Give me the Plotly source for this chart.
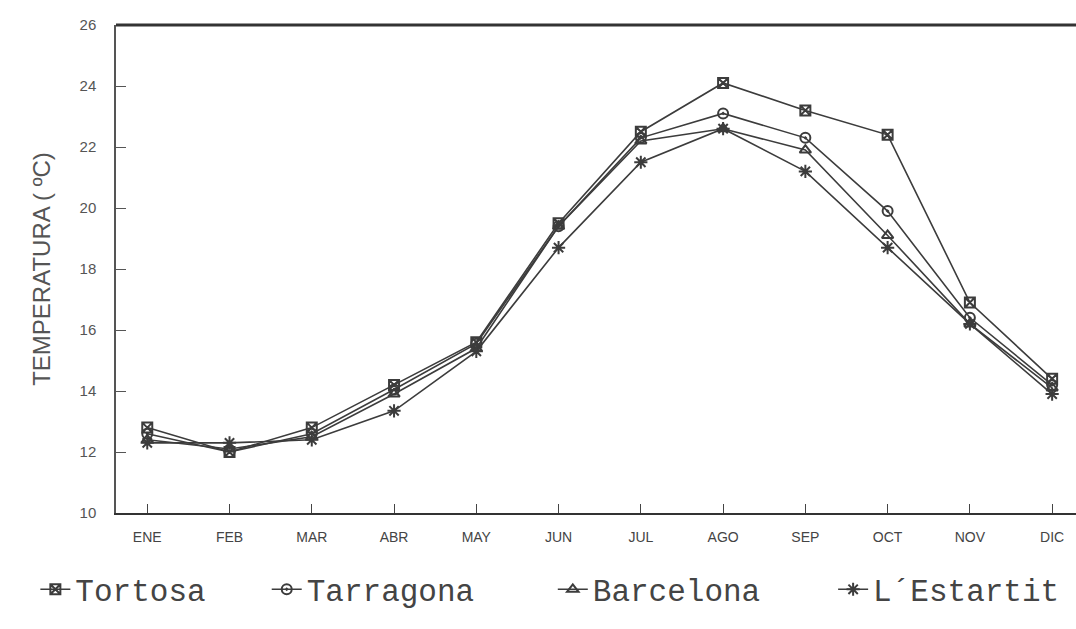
import plotly.graph_objects as go

months = ["ENE", "FEB", "MAR", "ABR", "MAY", "JUN", "JUL", "AGO", "SEP", "OCT", "NOV", "DIC"]
tortosa = [12.8, 12.0, 12.8, 14.2, 15.6, 19.5, 22.5, 24.1, 23.2, 22.4, 16.9, 14.4]
tarragona = [12.6, 12.0, 12.6, 14.05, 15.55, 19.4, 22.3, 23.1, 22.3, 19.9, 16.4, 14.2]
barcelona = [12.4, 12.1, 12.5, 13.9, 15.4, 19.4, 22.2, 22.6, 21.9, 19.1, 16.2, 14.1]
estartit = [12.3, 12.3, 12.4, 13.35, 15.3, 18.7, 21.5, 22.6, 21.2, 18.7, 16.2, 13.9]
names = ["Tortosa", "Tarragona", "Barcelona", "L´Estartit"]
yticks = [10, 12, 14, 16, 18, 20, 22, 24, 26]

series = [tortosa, tarragona, barcelona, estartit]
symbols = ["square-x-open", "circle-open-dot", "triangle-up-open", "asterisk-open"]
sizes = [10, 10, 10, 11]
legend_ids = ["legend", "legend2", "legend3", "legend4"]
legend_x = [-0.084, 0.157, 0.455, 0.747]

LC = "#3c3c3c"
fig = go.Figure()
for vals, nm, sym, sz, lg in zip(series, names, symbols, sizes, legend_ids):
    fig.add_trace(go.Scatter(
        x=months, y=vals, name=nm, mode="lines+markers",
        line=dict(color=LC, width=1.6),
        marker=dict(symbol=sym, size=sz, color=LC, line=dict(color=LC, width=2)),
        legend=lg,
    ))

legend_font = dict(family="Liberation Mono", size=31, color="#444444")
layout_legends = {}
for lg, lx in zip(legend_ids, legend_x):
    layout_legends[lg] = dict(
        x=lx, y=-0.157, xanchor="left", yanchor="middle",
        orientation="h", font=legend_font, bgcolor="rgba(0,0,0,0)",
        itemwidth=30,
    )

fig.update_layout(
    width=1076, height=629,
    margin=dict(l=116, r=0, t=25, b=116, autoexpand=False),
    paper_bgcolor="white", plot_bgcolor="white",
    showlegend=True,
    **layout_legends,
)
fig.update_xaxes(
    type="category", range=[-0.38, 11.29],
    showgrid=False, zeroline=False, automargin=False,
    showline=True, linecolor="#333333", linewidth=2,
    ticks="inside", ticklen=9, tickwidth=1, tickcolor="#444444",
    tickfont=dict(family="Liberation Sans", size=14, color="#444444"),
    ticklabelstandoff=10,
)
fig.update_yaxes(
    range=[10, 26], tickvals=yticks,
    showgrid=False, zeroline=False, automargin=False,
    showline=True, linecolor="#555555", linewidth=1.5,
    ticks="inside", ticklen=10, tickwidth=1, tickcolor="#555555",
    tickfont=dict(family="Liberation Sans", size=15, color="#555555"),
    ticklabelstandoff=15,
    title=dict(text="TEMPERATURA ( ºC)", font=dict(family="Liberation Sans", size=24, color="#555555"), standoff=22),
)
fig.add_shape(type="line", xref="paper", yref="paper", x0=0, x1=1, y0=1, y1=1,
              line=dict(color="#333333", width=3))

fig.write_html("out.html", config={"displayModeBar": False},
               post_script="document.body.style.margin='0';")
